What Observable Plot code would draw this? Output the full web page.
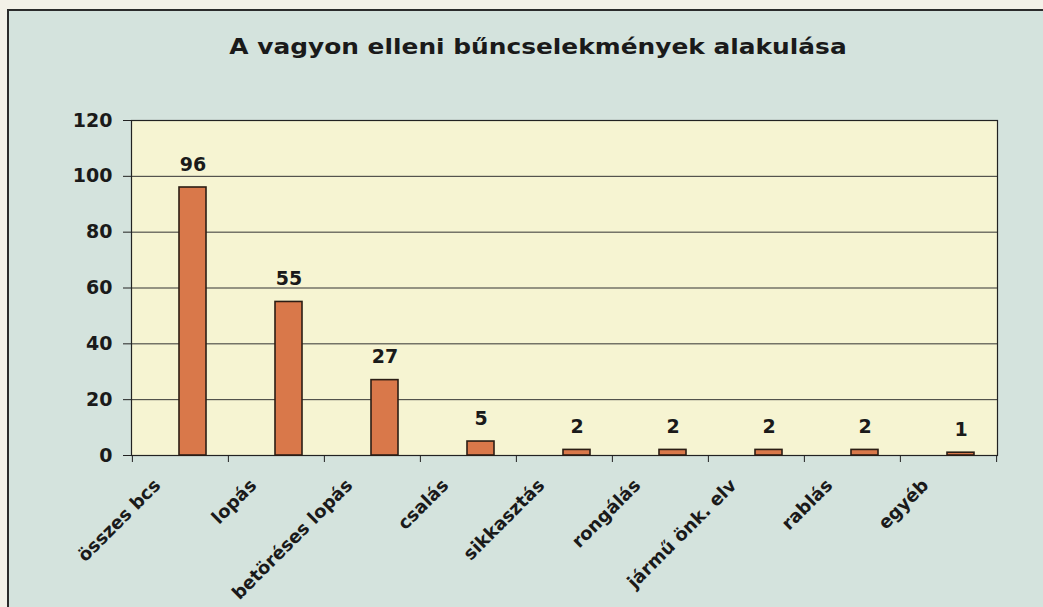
<!DOCTYPE html>
<html>
<head>
<meta charset="utf-8">
<script src="https://cdn.jsdelivr.net/npm/d3@7"></script>
<script src="https://cdn.jsdelivr.net/npm/@observablehq/plot@0.6"></script>
<style>
  html, body { margin: 0; padding: 0; width: 1043px; height: 607px; overflow: hidden; background: #f3f1e8; }
  #box { position: absolute; left: 7px; top: 9px; width: 1100px; height: 700px; border: 2px solid #2b2b2b; background: #d4e3dd; }
  #title { position: absolute; left: 138px; top: 34px; width: 800px; text-align: center; font-family: "DejaVu Sans", sans-serif; font-weight: bold; font-size: 22px; line-height: 26px; color: #1a1a1a; transform: scaleX(1.13); transform-origin: 50% 50%; }
  #chart { position: absolute; left: 0; top: 80px; }
</style>
</head>
<body>
<div id="box"></div>
<div id="title">A vagyon elleni bűncselekmények alakulása</div>
<div id="chart"></div>
<script>
const categories = ["összes bcs", "lopás", "betöréses lopás", "csalás", "sikkasztás", "rongálás", "jármű önk. elv", "rablás", "egyéb"];
const values = [96, 55, 27, 5, 2, 2, 2, 2, 1];
const yTicks = [0, 20, 40, 60, 80, 100, 120];

const data = categories.map((c, i) => ({category: c, value: values[i]}));

const W = 1043, ML = 131, MR = 46;
const bw = (W - ML - MR) / categories.length;

const chart = Plot.plot({
  width: W,
  height: 527,
  marginTop: 40,
  marginBottom: 152,
  marginLeft: ML,
  marginRight: MR,
  style: {background: "transparent", fontFamily: "DejaVu Sans, sans-serif", fontWeight: "bold", color: "#1a1a1a", overflow: "visible"},
  x: {domain: categories, padding: 0, axis: null},
  y: {domain: [0, 120], axis: null},
  marks: [
    Plot.frame({fill: "#f6f4d2", stroke: null}),
    Plot.ruleY(yTicks, {stroke: "#333", strokeWidth: 1}),
    Plot.frame({stroke: "#222", strokeWidth: 1.2}),
    Plot.axisY({ticks: yTicks, label: null, tickSize: 8, tickPadding: 11, fontSize: 19, fontWeight: "bold", stroke: "#222"}),
    Plot.axisX({text: null, label: null, tickSize: 7, dx: -bw / 2, stroke: "#222"}),
    Plot.axisX([categories[categories.length - 1]], {text: null, label: null, tickSize: 7, dx: bw / 2, stroke: "#222"}),
    Plot.barY(data, {x: "category", y: "value", fill: "#d9784a", stroke: "#2b1d14", strokeWidth: 1.6, insetLeft: 47, insetRight: 22}),
    Plot.text(data, {x: "category", y: "value", text: d => String(d.value), dx: 12.5, dy: -23, lineAnchor: "middle", fontSize: 19, fontWeight: "bold", fill: "#1a1a1a"}),
    Plot.text(categories, {x: d => d, y: () => 0, text: d => d, rotate: -45, textAnchor: "end", lineAnchor: "bottom", dx: -19, dy: 31, fontSize: 18, fontWeight: "bold", fill: "#1a1a1a"})
  ]
});
document.getElementById("chart").appendChild(chart);
</script>
</body>
</html>
